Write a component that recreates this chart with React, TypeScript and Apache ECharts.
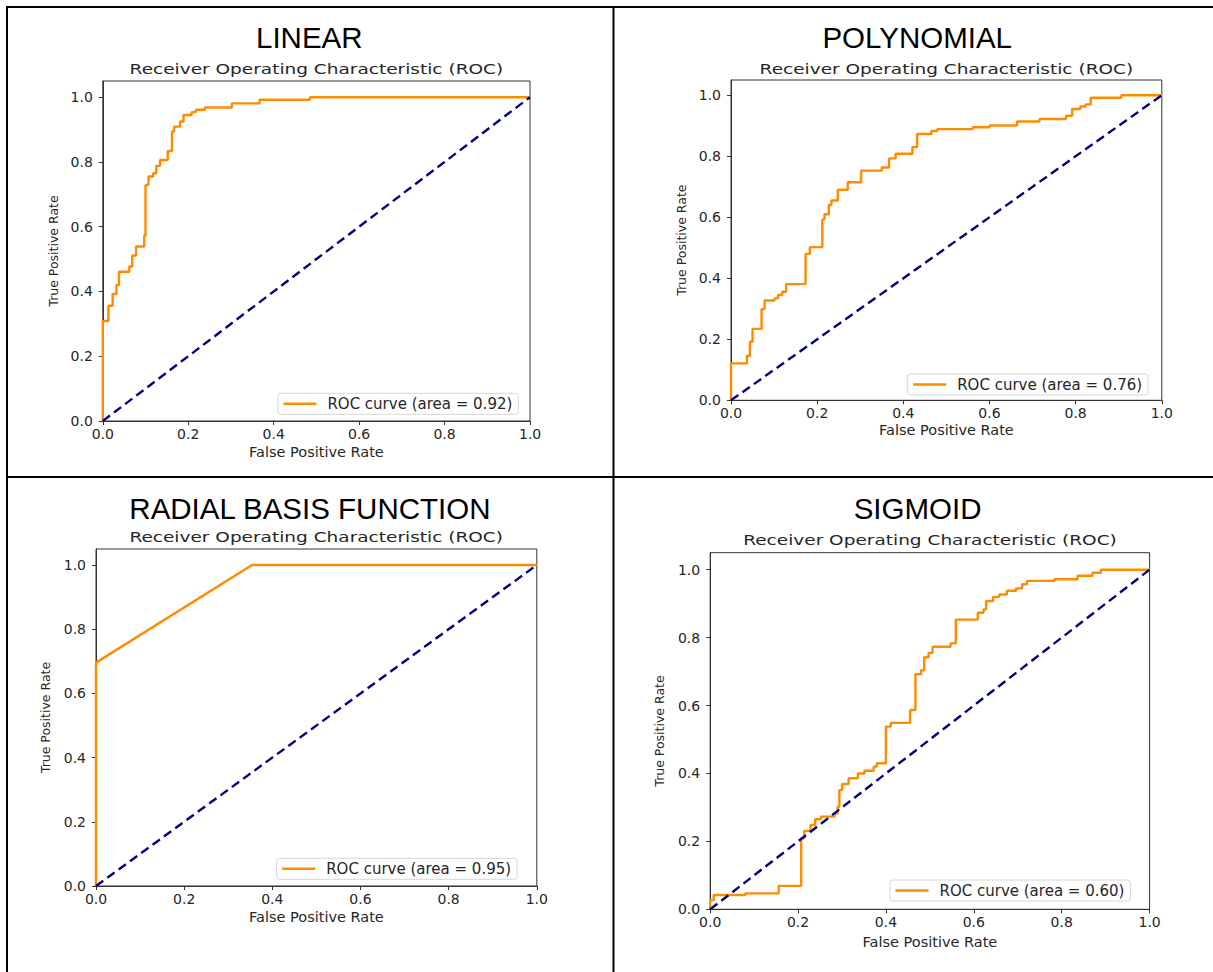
import React, { useEffect, useRef } from "react";
import * as echarts from "echarts";

// ---------- data ----------
const kernelNames = ["LINEAR", "POLYNOMIAL", "RADIAL BASIS FUNCTION", "SIGMOID"];
const aucValues = ["0.92", "0.76", "0.95", "0.60"];
const tickValues = [0, 0.2, 0.4, 0.6, 0.8, 1.0];
const chanceFpr = [0, 1];
const chanceTpr = [0, 1];

const linearFpr = [0, 0, 0.013, 0.023, 0.032, 0.038, 0.062, 0.069, 0.078, 0.097, 0.1, 0.107, 0.118, 0.125, 0.134, 0.152, 0.162, 0.167, 0.181, 0.189, 0.208, 0.218, 0.239, 0.302, 0.367, 0.485, 1.0];
const linearTpr = [0, 0.309, 0.356, 0.392, 0.42, 0.461, 0.477, 0.511, 0.539, 0.573, 0.729, 0.755, 0.765, 0.788, 0.806, 0.834, 0.894, 0.909, 0.925, 0.945, 0.954, 0.961, 0.968, 0.981, 0.992, 1.0, 1.0];

const polyFpr = [0, 0, 0.037, 0.044, 0.05, 0.071, 0.078, 0.101, 0.109, 0.119, 0.128, 0.173, 0.183, 0.212, 0.217, 0.227, 0.233, 0.248, 0.271, 0.302, 0.35, 0.367, 0.382, 0.421, 0.432, 0.465, 0.479, 0.561, 0.6, 0.664, 0.716, 0.778, 0.792, 0.811, 0.823, 0.835, 0.906, 1.0];
const polyTpr = [0, 0.121, 0.146, 0.192, 0.234, 0.299, 0.327, 0.334, 0.345, 0.356, 0.381, 0.48, 0.502, 0.593, 0.61, 0.64, 0.655, 0.69, 0.715, 0.753, 0.763, 0.793, 0.808, 0.83, 0.873, 0.883, 0.889, 0.895, 0.901, 0.914, 0.922, 0.933, 0.955, 0.963, 0.97, 0.992, 1.0, 1.0];

const rbfFpr = [0, 0, 0.354, 1.0];
const rbfTpr = [0, 0.696, 1.0, 1.0];

const sigFpr = [0, 0, 0.008, 0.08, 0.156, 0.207, 0.214, 0.228, 0.239, 0.252, 0.283, 0.29, 0.294, 0.3, 0.315, 0.336, 0.351, 0.372, 0.379, 0.4, 0.411, 0.455, 0.467, 0.48, 0.487, 0.497, 0.506, 0.547, 0.559, 0.609, 0.622, 0.628, 0.644, 0.658, 0.675, 0.696, 0.71, 0.721, 0.783, 0.836, 0.87, 0.889, 1.0];
const sigTpr = [0, 0.027, 0.042, 0.047, 0.069, 0.209, 0.231, 0.248, 0.265, 0.273, 0.282, 0.302, 0.351, 0.369, 0.386, 0.4, 0.408, 0.42, 0.43, 0.538, 0.549, 0.587, 0.692, 0.704, 0.742, 0.755, 0.773, 0.783, 0.853, 0.873, 0.883, 0.908, 0.92, 0.927, 0.938, 0.945, 0.957, 0.967, 0.972, 0.982, 0.991, 1.0, 1.0];

const curveFpr = [linearFpr, polyFpr, rbfFpr, sigFpr];
const curveTpr = [linearTpr, polyTpr, rbfTpr, sigTpr];
const curveStepped = [true, true, false, true];

// ---------- layout ----------
const LAYOUT = [
  { grid: { left: 102.8, top: 81, width: 427.2, height: 340 }, big: [309.3, 37.3], sub: [316.4, 69], legend: [277.9, 393.3], xGap: 23, yGap: 43 },
  { grid: { left: 731, top: 80, width: 430.8, height: 320.3 }, big: [917.2, 37.3], sub: [946.4, 68.3], legend: [907.7, 374], xGap: 22, yGap: 43 },
  { grid: { left: 96, top: 549, width: 440.8, height: 337 }, big: [309.9, 508.3], sub: [316.2, 536.7], legend: [276.7, 858.3], xGap: 23, yGap: 44 },
  { grid: { left: 710.2, top: 552.7, width: 439.4, height: 356.6 }, big: [917.6, 508.3], sub: [930, 540], legend: [890, 880], xGap: 25, yGap: 44 },
];

const FONT = "DejaVu Sans";
const INK = "#262626";
const SPINE = "#333";
const ORANGE = "#ff8c00";
const NAVY = "#000080";

function buildOption() {
  const grid: any[] = [];
  const xAxis: any[] = [];
  const yAxis: any[] = [];
  const series: any[] = [];
  const legend: any[] = [];
  const graphic: any[] = [];

  LAYOUT.forEach((p, i) => {
    grid.push({
      ...p.grid,
      show: true,
      borderColor: SPINE,
      borderWidth: 1,
      backgroundColor: "transparent",
      containLabel: false,
      outerBoundsMode: "none",
    });
    xAxis.push({
      type: "value",
      gridIndex: i,
      min: 0,
      max: 1,
      interval: 0.2,
      name: "False Positive Rate",
      nameLocation: "middle",
      nameGap: p.xGap,
      nameTextStyle: { fontFamily: FONT, fontSize: 14.5, color: INK },
      axisLine: { show: true, onZero: false, lineStyle: { color: SPINE, width: 1 } },
      axisTick: { show: true, length: 4, customValues: tickValues, lineStyle: { color: SPINE, width: 1 } },
      axisLabel: { fontFamily: FONT, fontSize: 14, color: INK, margin: 6, customValues: tickValues, formatter: (v: number) => v.toFixed(1) },
      splitLine: { show: false },
    });
    yAxis.push({
      type: "value",
      gridIndex: i,
      min: 0,
      max: 1.05,
      interval: 0.2,
      name: "True Positive Rate",
      nameLocation: "middle",
      nameRotate: 90,
      nameGap: p.yGap,
      nameTextStyle: { fontFamily: FONT, fontSize: 12.5, color: INK },
      axisLine: { show: true, onZero: false, lineStyle: { color: SPINE, width: 1 } },
      axisTick: { show: true, length: 4, customValues: tickValues, lineStyle: { color: SPINE, width: 1 } },
      axisLabel: {
        fontFamily: FONT,
        fontSize: 14,
        color: INK,
        margin: 10,
        customValues: tickValues,
        formatter: (v: number) => (v > 1.001 ? "" : v.toFixed(1)),
      },
      splitLine: { show: false },
    });
    const name = `ROC curve (area = ${aucValues[i]})`;
    series.push({
      type: "line",
      name,
      xAxisIndex: i,
      yAxisIndex: i,
      data: curveFpr[i].map((x, j) => [x, curveTpr[i][j]]),
      step: curveStepped[i] ? "end" : false,
      symbol: "none",
      showSymbol: false,
      lineStyle: { color: ORANGE, width: 2.4 },
      itemStyle: { color: ORANGE },
      silent: true,
      z: 2,
    });
    series.push({
      type: "line",
      name: "chance " + i,
      xAxisIndex: i,
      yAxisIndex: i,
      data: chanceFpr.map((x, j) => [x, chanceTpr[j]]),
      symbol: "none",
      showSymbol: false,
      lineStyle: { color: NAVY, width: 2.4, type: [9, 5] },
      itemStyle: { color: NAVY },
      silent: true,
      z: 3,
    });
    legend.push({
      data: [name],
      left: p.legend[0],
      top: p.legend[1],
      orient: "horizontal",
      icon: "rect",
      itemWidth: 33,
      itemHeight: 2.4,
      padding: [3, 6, 3, 5.5],
      borderColor: "#d6d6d6",
      borderWidth: 1,
      borderRadius: 3,
      backgroundColor: "rgba(255,255,255,0.85)",
      selectedMode: false,
      textStyle: { fontFamily: FONT, fontSize: 15, color: INK, padding: [0, 0, 0, 6] },
    });
    graphic.push({
      type: "text",
      x: p.big[0],
      y: p.big[1],
      style: {
        text: kernelNames[i],
        fill: "#000",
        font: '29.5px "Liberation Sans", Arial, sans-serif',
        align: "center",
        verticalAlign: "middle",
      },
    });
    graphic.push({
      type: "text",
      x: p.sub[0],
      y: p.sub[1],
      scaleX: 1.25,
      style: {
        text: "Receiver Operating Characteristic (ROC)",
        fill: INK,
        font: `14.8px "${FONT}"`,
        align: "center",
        verticalAlign: "middle",
      },
    });
  });

  // table borders
  const border = { stroke: "#000", lineWidth: 2 };
  graphic.push({ type: "line", shape: { x1: 6, y1: 7, x2: 1213, y2: 7 }, style: border });
  graphic.push({ type: "line", shape: { x1: 6, y1: 477, x2: 1213, y2: 477 }, style: border });
  graphic.push({ type: "line", shape: { x1: 7, y1: 6, x2: 7, y2: 972 }, style: border });
  graphic.push({ type: "line", shape: { x1: 613.5, y1: 6, x2: 613.5, y2: 972 }, style: border });

  return {
    animation: false,
    backgroundColor: "#fff",
    grid,
    xAxis,
    yAxis,
    series,
    legend,
    graphic,
  };
}

export default function App() {
  const ref = useRef<HTMLDivElement>(null);
  useEffect(() => {
    if (!ref.current) return;
    const chart = echarts.init(ref.current, undefined, { renderer: "svg" });
    chart.setOption(buildOption() as any);
    return () => chart.dispose();
  }, []);
  return (
    <div
      ref={ref}
      style={{ position: "absolute", left: 0, top: 0, width: 1213, height: 972, background: "#fff" }}
    />
  );
}
